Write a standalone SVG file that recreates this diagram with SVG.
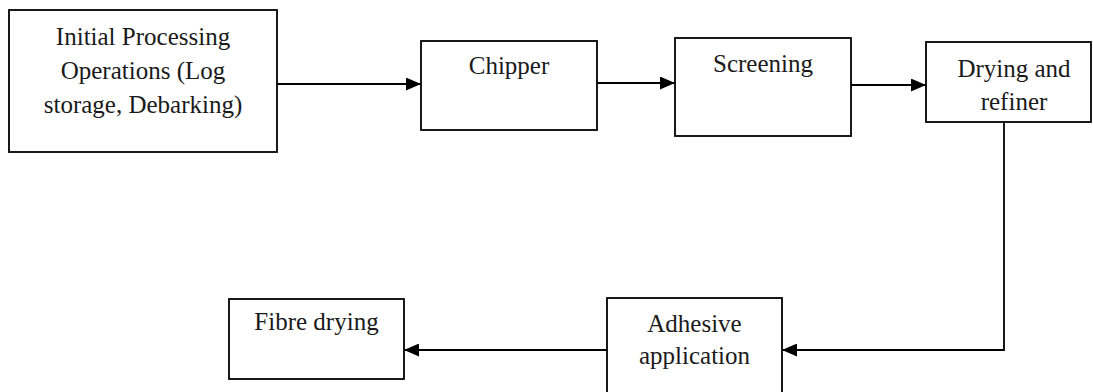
<svg xmlns="http://www.w3.org/2000/svg" width="1093" height="392" viewBox="0 0 1093 392">
<style>
.box{fill:#fff;stroke:#000;stroke-width:1.8}
.lbl{font-family:"Liberation Serif","Times New Roman",serif;font-size:25px;fill:#1a1a1a;text-anchor:middle}
.con{fill:none;stroke:#000;stroke-width:1.8}
</style>
<defs>
<marker id="arr" markerUnits="userSpaceOnUse" markerWidth="15" markerHeight="13" refX="15" refY="6.5" orient="auto">
<path d="M0,0 L15,6.5 L0,13 z" fill="#000"/>
</marker>
</defs>
<rect width="1093" height="392" fill="#fff"/>
<g id="connectors">
<line class="con" x1="277" y1="84" x2="421" y2="84" marker-end="url(#arr)"/>
<line class="con" x1="597" y1="83" x2="675" y2="83" marker-end="url(#arr)"/>
<line class="con" x1="851" y1="85" x2="926" y2="85" marker-end="url(#arr)"/>
<path class="con" d="M1004,122 V350 H782" marker-end="url(#arr)"/>
<line class="con" x1="607" y1="350" x2="404" y2="350" marker-end="url(#arr)"/>
</g>
<g id="initial">
<rect class="box" x="9" y="10" width="268" height="142"/>
<text class="lbl" x="143" y="45">Initial Processing</text>
<text class="lbl" x="143" y="79">Operations (Log</text>
<text class="lbl" x="143" y="113">storage, Debarking)</text>
</g>
<g id="chipper">
<rect class="box" x="421" y="41" width="176" height="89"/>
<text class="lbl" x="509" y="74">Chipper</text>
</g>
<g id="screening">
<rect class="box" x="675" y="38" width="176" height="98"/>
<text class="lbl" x="763" y="72">Screening</text>
</g>
<g id="drying">
<rect class="box" x="926" y="42" width="165" height="80"/>
<text class="lbl" x="1014" y="77">Drying and</text>
<text class="lbl" x="1014" y="110">refiner</text>
</g>
<g id="adhesive">
<rect class="box" x="607" y="298" width="175" height="100"/>
<text class="lbl" x="694.5" y="332">Adhesive</text>
<text class="lbl" x="694.5" y="364">application</text>
</g>
<g id="fibre">
<rect class="box" x="229" y="299" width="175" height="80"/>
<text class="lbl" x="316.5" y="330">Fibre drying</text>
</g>
</svg>
